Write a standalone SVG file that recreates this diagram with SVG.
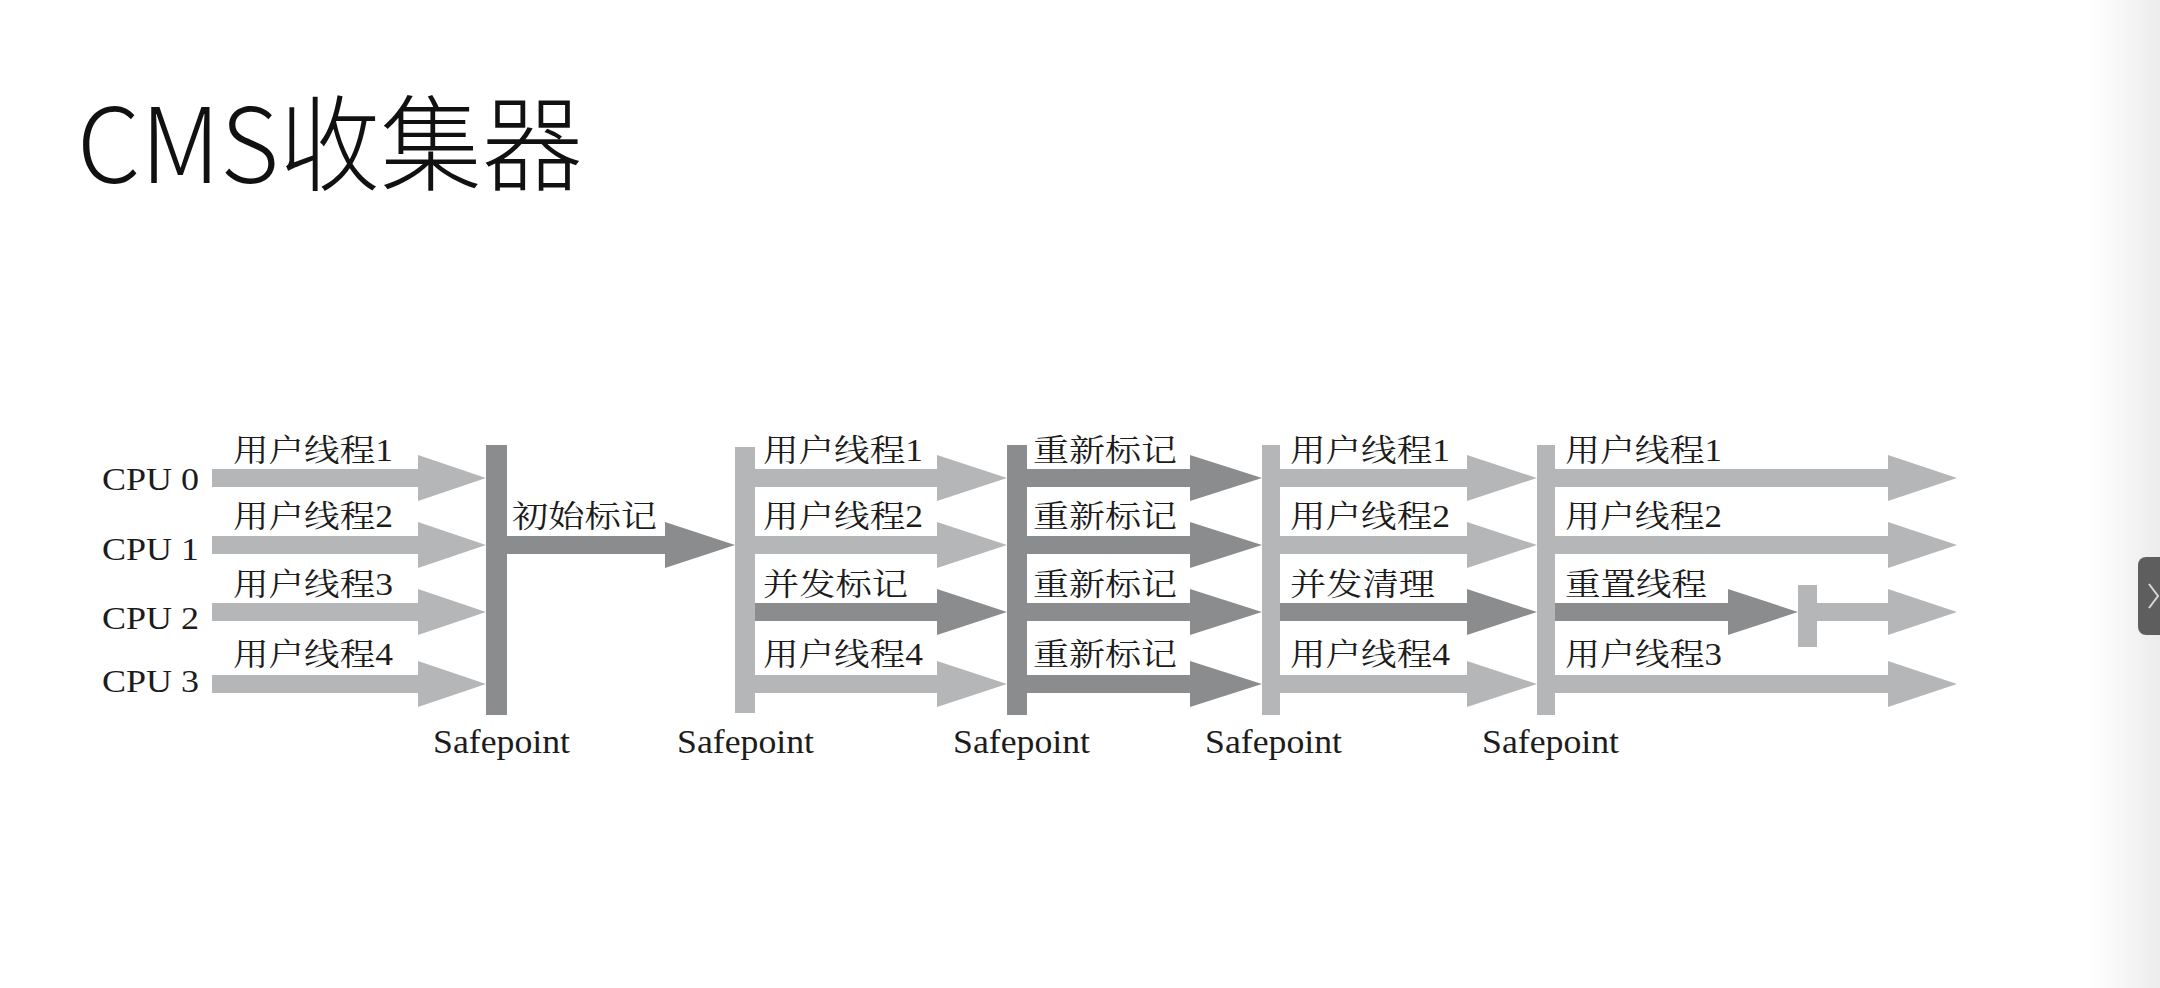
<svg xmlns="http://www.w3.org/2000/svg" width="2160" height="988" viewBox="0 0 2160 988">
  <defs>
    <linearGradient id="edge" x1="0" y1="0" x2="1" y2="0">
      <stop offset="0" stop-color="#ffffff"/>
      <stop offset="1" stop-color="#ececec"/>
    </linearGradient>
    <style>
      .light { fill: #b5b6b8; }
      .dark { fill: #8b8c8e; }
      .title { font-family: "Noto Sans CJK SC", "Noto Sans", sans-serif; font-weight: 300; font-size: 104px; fill: #111; }
      .cpu { font-family: "Liberation Serif", "Noto Serif CJK SC", "Noto Sans CJK SC", serif; font-size: 32px; fill: #1c1c1c; }
      .lbl { font-family: "Liberation Serif", "Noto Serif CJK SC", "Noto Sans CJK SC", serif; font-size: 31px; fill: #1c1c1c; }
      .sp { font-family: "Liberation Serif", "Noto Serif CJK SC", serif; font-size: 33px; fill: #1c1c1c; }
    </style>
  </defs>

  <rect x="0" y="0" width="2160" height="988" fill="#ffffff"/>
  <rect x="2090" y="0" width="70" height="988" fill="url(#edge)"/>

  <g id="title">
    <text class="title" x="77" y="183" textLength="506" lengthAdjust="spacingAndGlyphs">CMS收集器</text>
  </g>

  <g id="cpu-labels">
    <text class="cpu" x="102" y="490" textLength="97" lengthAdjust="spacingAndGlyphs">CPU 0</text>
    <text class="cpu" x="102" y="560" textLength="97" lengthAdjust="spacingAndGlyphs">CPU 1</text>
    <text class="cpu" x="102" y="629" textLength="97" lengthAdjust="spacingAndGlyphs">CPU 2</text>
    <text class="cpu" x="102" y="692" textLength="97" lengthAdjust="spacingAndGlyphs">CPU 3</text>
  </g>

  <g id="connectors">
    <!-- column 1: user threads -->
    <polygon class="light" points="212,469 418,469 418,455 486,478 418,501 418,487 212,487"/>
    <polygon class="light" points="212,536 418,536 418,522 486,545 418,568 418,554 212,554"/>
    <polygon class="light" points="212,603 418,603 418,589 486,612 418,635 418,621 212,621"/>
    <polygon class="light" points="212,675 418,675 418,661 486,684 418,707 418,693 212,693"/>
    <!-- initial mark -->
    <polygon class="dark" points="507,536 665,536 665,522 735,545 665,568 665,554 507,554"/>
    <!-- column 2 -->
    <polygon class="light" points="755,469 937,469 937,455 1007,478 937,501 937,487 755,487"/>
    <polygon class="light" points="755,536 937,536 937,522 1007,545 937,568 937,554 755,554"/>
    <polygon class="dark" points="755,603 937,603 937,589 1007,612 937,635 937,621 755,621"/>
    <polygon class="light" points="755,675 937,675 937,661 1007,684 937,707 937,693 755,693"/>
    <!-- column 3: remark -->
    <polygon class="dark" points="1027,469 1190,469 1190,455 1262,478 1190,501 1190,487 1027,487"/>
    <polygon class="dark" points="1027,536 1190,536 1190,522 1262,545 1190,568 1190,554 1027,554"/>
    <polygon class="dark" points="1027,603 1190,603 1190,589 1262,612 1190,635 1190,621 1027,621"/>
    <polygon class="dark" points="1027,675 1190,675 1190,661 1262,684 1190,707 1190,693 1027,693"/>
    <!-- column 4 -->
    <polygon class="light" points="1280,469 1467,469 1467,455 1537,478 1467,501 1467,487 1280,487"/>
    <polygon class="light" points="1280,536 1467,536 1467,522 1537,545 1467,568 1467,554 1280,554"/>
    <polygon class="dark" points="1280,603 1467,603 1467,589 1537,612 1467,635 1467,621 1280,621"/>
    <polygon class="light" points="1280,675 1467,675 1467,661 1537,684 1467,707 1467,693 1280,693"/>
    <!-- column 5 -->
    <polygon class="light" points="1555,469 1888,469 1888,455 1957,478 1888,501 1888,487 1555,487"/>
    <polygon class="light" points="1555,536 1888,536 1888,522 1957,545 1888,568 1888,554 1555,554"/>
    <polygon class="dark" points="1555,603 1728,603 1728,589 1798,612 1728,635 1728,621 1555,621"/>
    <polygon class="light" points="1817,603 1888,603 1888,589 1957,612 1888,635 1888,621 1817,621"/>
    <polygon class="light" points="1555,675 1888,675 1888,661 1957,684 1888,707 1888,693 1555,693"/>
  </g>

  <g id="safepoint-1">
    <rect class="dark" x="486" y="445" width="21" height="270"/>
    <text class="sp" x="433" y="753" textLength="137" lengthAdjust="spacingAndGlyphs">Safepoint</text>
  </g>
  <g id="safepoint-2">
    <rect class="light" x="735" y="447" width="20" height="266"/>
    <text class="sp" x="677" y="753" textLength="137" lengthAdjust="spacingAndGlyphs">Safepoint</text>
  </g>
  <g id="safepoint-3">
    <rect class="dark" x="1007" y="445" width="20" height="270"/>
    <text class="sp" x="953" y="753" textLength="137" lengthAdjust="spacingAndGlyphs">Safepoint</text>
  </g>
  <g id="safepoint-4">
    <rect class="light" x="1262" y="445" width="18" height="270"/>
    <text class="sp" x="1205" y="753" textLength="137" lengthAdjust="spacingAndGlyphs">Safepoint</text>
  </g>
  <g id="safepoint-5">
    <rect class="light" x="1537" y="445" width="18" height="270"/>
    <text class="sp" x="1482" y="753" textLength="137" lengthAdjust="spacingAndGlyphs">Safepoint</text>
  </g>
  <g id="reset-stop">
    <rect class="light" x="1798" y="585" width="19" height="62"/>
  </g>

  <g id="labels-col1">
    <text class="lbl" x="233" y="461" textLength="160" lengthAdjust="spacingAndGlyphs">用户线程1</text>
    <text class="lbl" x="233" y="527" textLength="160" lengthAdjust="spacingAndGlyphs">用户线程2</text>
    <text class="lbl" x="233" y="595" textLength="160" lengthAdjust="spacingAndGlyphs">用户线程3</text>
    <text class="lbl" x="233" y="665" textLength="160" lengthAdjust="spacingAndGlyphs">用户线程4</text>
  </g>
  <g id="label-initial-mark">
    <text class="lbl" x="512" y="527" textLength="145" lengthAdjust="spacingAndGlyphs">初始标记</text>
  </g>
  <g id="labels-col2">
    <text class="lbl" x="763" y="461" textLength="160" lengthAdjust="spacingAndGlyphs">用户线程1</text>
    <text class="lbl" x="763" y="527" textLength="160" lengthAdjust="spacingAndGlyphs">用户线程2</text>
    <text class="lbl" x="763" y="595" textLength="145" lengthAdjust="spacingAndGlyphs">并发标记</text>
    <text class="lbl" x="763" y="665" textLength="160" lengthAdjust="spacingAndGlyphs">用户线程4</text>
  </g>
  <g id="labels-col3">
    <text class="lbl" x="1033" y="461" textLength="144" lengthAdjust="spacingAndGlyphs">重新标记</text>
    <text class="lbl" x="1033" y="527" textLength="144" lengthAdjust="spacingAndGlyphs">重新标记</text>
    <text class="lbl" x="1033" y="595" textLength="144" lengthAdjust="spacingAndGlyphs">重新标记</text>
    <text class="lbl" x="1033" y="665" textLength="144" lengthAdjust="spacingAndGlyphs">重新标记</text>
  </g>
  <g id="labels-col4">
    <text class="lbl" x="1290" y="461" textLength="160" lengthAdjust="spacingAndGlyphs">用户线程1</text>
    <text class="lbl" x="1290" y="527" textLength="160" lengthAdjust="spacingAndGlyphs">用户线程2</text>
    <text class="lbl" x="1290" y="595" textLength="145" lengthAdjust="spacingAndGlyphs">并发清理</text>
    <text class="lbl" x="1290" y="665" textLength="160" lengthAdjust="spacingAndGlyphs">用户线程4</text>
  </g>
  <g id="labels-col5">
    <text class="lbl" x="1565" y="461" textLength="157" lengthAdjust="spacingAndGlyphs">用户线程1</text>
    <text class="lbl" x="1565" y="527" textLength="157" lengthAdjust="spacingAndGlyphs">用户线程2</text>
    <text class="lbl" x="1565" y="595" textLength="142" lengthAdjust="spacingAndGlyphs">重置线程</text>
    <text class="lbl" x="1565" y="665" textLength="157" lengthAdjust="spacingAndGlyphs">用户线程3</text>
  </g>

  <g id="side-tab">
    <rect x="2138" y="557" width="40" height="78" rx="8" fill="#5e5e5e"/>
    <polyline points="2149,584 2158,596 2149,608" fill="none" stroke="#d8d8d8" stroke-width="2"/>
  </g>
</svg>
